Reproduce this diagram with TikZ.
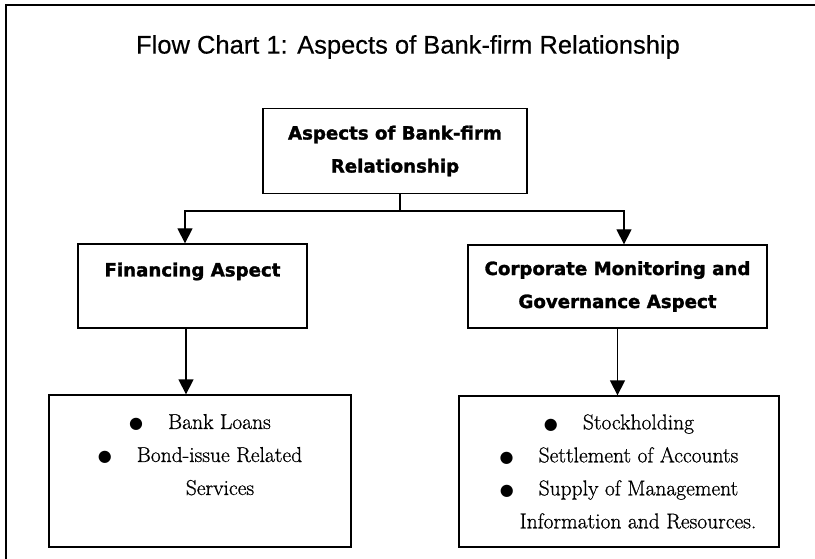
\documentclass[tikz,border=0pt]{standalone}
\usepackage{fontspec}
\setmainfont{Latin Modern Roman}[FakeBold=0.8, UprightFeatures={FakeBold=0.8}]
\newfontfamily\titlefont{Liberation Sans}[FakeBold=0.4, UprightFeatures={FakeBold=0.4}]
\newfontfamily\headfont{DejaVu Sans}[BoldFeatures={FakeBold=1.6}]
\newfontfamily\symfont{DejaVu Sans}
\usetikzlibrary{arrows.meta}

\newcommand{\blt}{{\symfont\fontsize{16}{16}\selectfont ●}\hspace{25pt}}

\begin{document}
\begin{tikzpicture}[x=1pt, y=-1pt,
    box/.style = {draw, line width=1.3pt, inner sep=0pt},
    head/.style = {font=\headfont\bfseries\fontsize{18.2}{33}\selectfont, align=center},
    body/.style = {font=\fontsize{21.5}{33}\selectfont, align=center},
    link/.style = {line width=1.3pt},
    arr/.style = {link, -{Triangle[width=15pt,length=15pt]}}]

    \useasboundingbox (0,0) rectangle (815,559);

    % Frame + title
    \draw[line width=1.3pt] (6,559) -- (6,5) -- (815,5);
    \node[font=\titlefont\fontsize{25.5}{25.5}\selectfont] (title) at (408,47) {Flow Chart 1: Aspects of Bank-firm Relationship};

    % Boxes
    \node[box, head, minimum width=264pt, minimum height=85pt] (bankfirm) at (395,151) {Aspects of Bank-firm\\Relationship};
    \node[box, head, minimum width=229pt, minimum height=84pt] (finance) at (192.5,286) {Financing Aspect\\~};
    \node[box, head, minimum width=299pt, minimum height=83pt] (monitor) at (617.5,286.5) {Corporate Monitoring and\\Governance Aspect};
    \node[box, body, minimum width=302pt, minimum height=152pt] (loans) at (200,471) {\blt Bank Loans\\\blt Bond-issue Related\\\hspace*{40pt}Services\\~};
    \node[box, body, minimum width=320pt, minimum height=151pt] (stock) at (619,471.5) {\blt Stockholding\\\blt Settlement of Accounts\\\blt Supply of Management\\\hspace*{38pt}Information and Resources.};

    % Arrows
    \draw[link] ([xshift=5pt]bankfirm.south) -- ++(0,17) coordinate (split);
    \draw[arr] (split) -| ([xshift=-7.5pt]finance.north);
    \draw[arr] (split) -| ([xshift=6.5pt]monitor.north);
    \draw[arr] ([xshift=-6.5pt]finance.south) -- ([xshift=-6.5pt]finance.south |- loans.north);
    \draw[arr] (monitor.south) -- (monitor.south |- stock.north);

\end{tikzpicture}
\end{document}
